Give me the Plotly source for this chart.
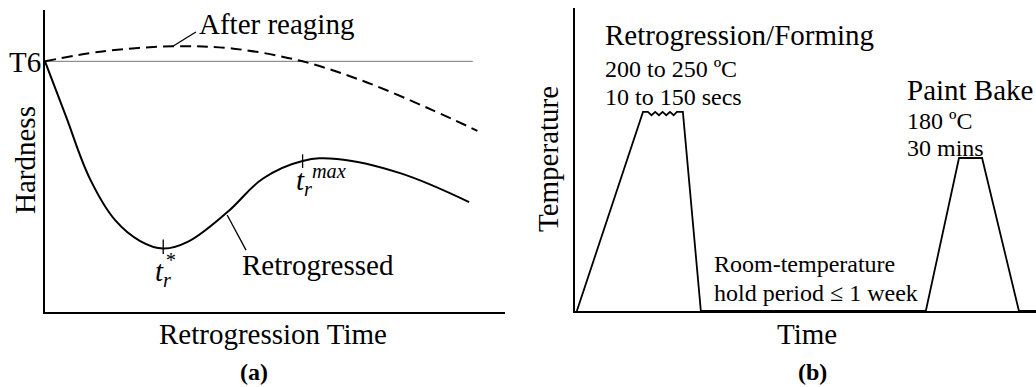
import plotly.graph_objects as go

W, H = 1036, 387
FONT = "'Liberation Serif', 'Times New Roman', Tinos, serif"

# ---------------- panel (a): hardness vs retrogression time ----------------
T6_LEVEL = 83.0

reaged_t = [0, 12, 27.8, 41, 56, 70, 84, 94]
reaged_h = [83, 86.2, 88, 87.2, 83, 76, 67, 60]

retro_t = [0, 4.5, 9.8, 15.2, 20.7, 25.7, 31, 39.6, 47.4, 56, 63.5, 77.2, 92.2]
retro_h = [83, 65, 44, 30.5, 23.5, 21.0, 23.2, 33.0, 44.2, 50, 50.7, 46, 36.4]

t_star = 25.7          # minimum of the retrogressed curve
t_star_tick = [19.2, 24.0]
t_max = 56.0           # recovery peak marker
t_max_tick = [47.7, 52.2]

reaging_leader_t = [27.8, 32.8]
reaging_leader_h = [88.0, 92.7]
retro_leader_t = [39.6, 43.7]
retro_leader_h = [32.1, 20.5]

# ---------------- panel (b): temperature schedule ----------------
# retrogression/forming hold (with fluctuating top), room-temperature hold, paint bake
sched_t = [0.4, 14.75, 15.8, 16.6, 17.4, 18.2, 19.0, 19.8, 20.6, 21.4, 22.1,
           23.4, 27.3, 76.1, 83.3, 88.3, 96.3, 100]
sched_T = [0, 65.7, 65.7, 64.6, 65.7, 64.6, 65.7, 64.6, 65.7, 64.6, 65.7,
           65.7, 0, 0, 50.5, 50.5, 0, 0]

fig = go.Figure()

def line(x, y, xa, ya, width=2, dash="solid", shape="linear", color="black", smoothing=1.0):
    fig.add_trace(go.Scatter(x=x, y=y, mode="lines", xaxis=xa, yaxis=ya,
                             line=dict(color=color, width=width, dash=dash, shape=shape,
                                       smoothing=smoothing if shape == "spline" else None),
                             hoverinfo="skip", showlegend=False))

# panel (a) curves
line([0, 93], [T6_LEVEL, T6_LEVEL], "x", "y", width=1, color="#777777")
line(reaged_t, reaged_h, "x", "y", width=2, dash="11px,6px", shape="spline")
line(retro_t, retro_h, "x", "y", width=2, shape="spline", smoothing=1.1)
line([t_star, t_star], t_star_tick, "x", "y", width=1.3)
line([t_max, t_max], t_max_tick, "x", "y", width=1.3)
line(reaging_leader_t, reaging_leader_h, "x", "y", width=1.3)
line(retro_leader_t, retro_leader_h, "x", "y", width=1.3)

# panel (b) schedule
line(sched_t, sched_T, "x2", "y2", width=1.8)

def px_x(p):
    return p / W

def px_y(p):
    return 1 - p / H

ax_common = dict(showgrid=False, zeroline=False, showticklabels=False, ticks="",
                 showline=True, linecolor="black", linewidth=2, fixedrange=True)

fig.update_layout(
    width=W, height=H, margin=dict(l=0, r=0, t=0, b=0),
    paper_bgcolor="white", plot_bgcolor="white",
    xaxis=dict(domain=[px_x(45), px_x(505)], range=[0, 100], anchor="y", **ax_common),
    yaxis=dict(domain=[px_y(312), px_y(10)], range=[0, 100], anchor="x", **ax_common),
    xaxis2=dict(domain=[px_x(575), 1.0], range=[0, 100], anchor="y2", **ax_common),
    yaxis2=dict(domain=[px_y(311), px_y(8)], range=[0, 100], anchor="x2", **ax_common),
    font=dict(family=FONT, color="black"),
)

def label(text, x, y, size, xanchor="center", yanchor="middle", angle=0):
    fig.add_annotation(text=text, x=px_x(x), y=px_y(y), xref="paper", yref="paper",
                       xanchor=xanchor, yanchor=yanchor, showarrow=False, textangle=angle,
                       font=dict(family=FONT, size=size, color="black"))

# panel (a) text
label("After reaging", 276, 24, 29)
label("T6", 43, 62, 29, xanchor="right")
label("Hardness", 25, 160, 29, angle=-90)
label("Retrogressed", 318, 265, 29)
label("Retrogression Time", 273, 334, 29)
label("<b>(a)</b>", 254, 372, 24)
label("<i>t</i><sub><i>r</i></sub><sup><i>max</i></sup>", 294, 180, 29, xanchor="left")
label("<i>t</i><sub><i>r</i></sub>", 153, 273, 29, xanchor="left")
label("<i>*</i>", 170, 260, 20)

# panel (b) text
label("Retrogression/Forming", 603, 35, 29, xanchor="left")
label("200 to 250 ºC", 603, 69, 24, xanchor="left")
label("10 to 150 secs", 603, 97, 24, xanchor="left")
label("Paint Bake", 905, 90, 29, xanchor="left")
label("180 ºC", 905, 121, 24, xanchor="left")
label("30 mins", 905, 148, 24, xanchor="left")
label("Room-temperature", 712, 264, 24, xanchor="left")
label("hold period ≤ 1 week", 712, 293, 24, xanchor="left")
label("Temperature", 548, 159, 29, angle=-90)
label("Time", 807, 334, 29)
label("<b>(b)</b>", 812, 372, 24)

fig.write_html("out.html")
